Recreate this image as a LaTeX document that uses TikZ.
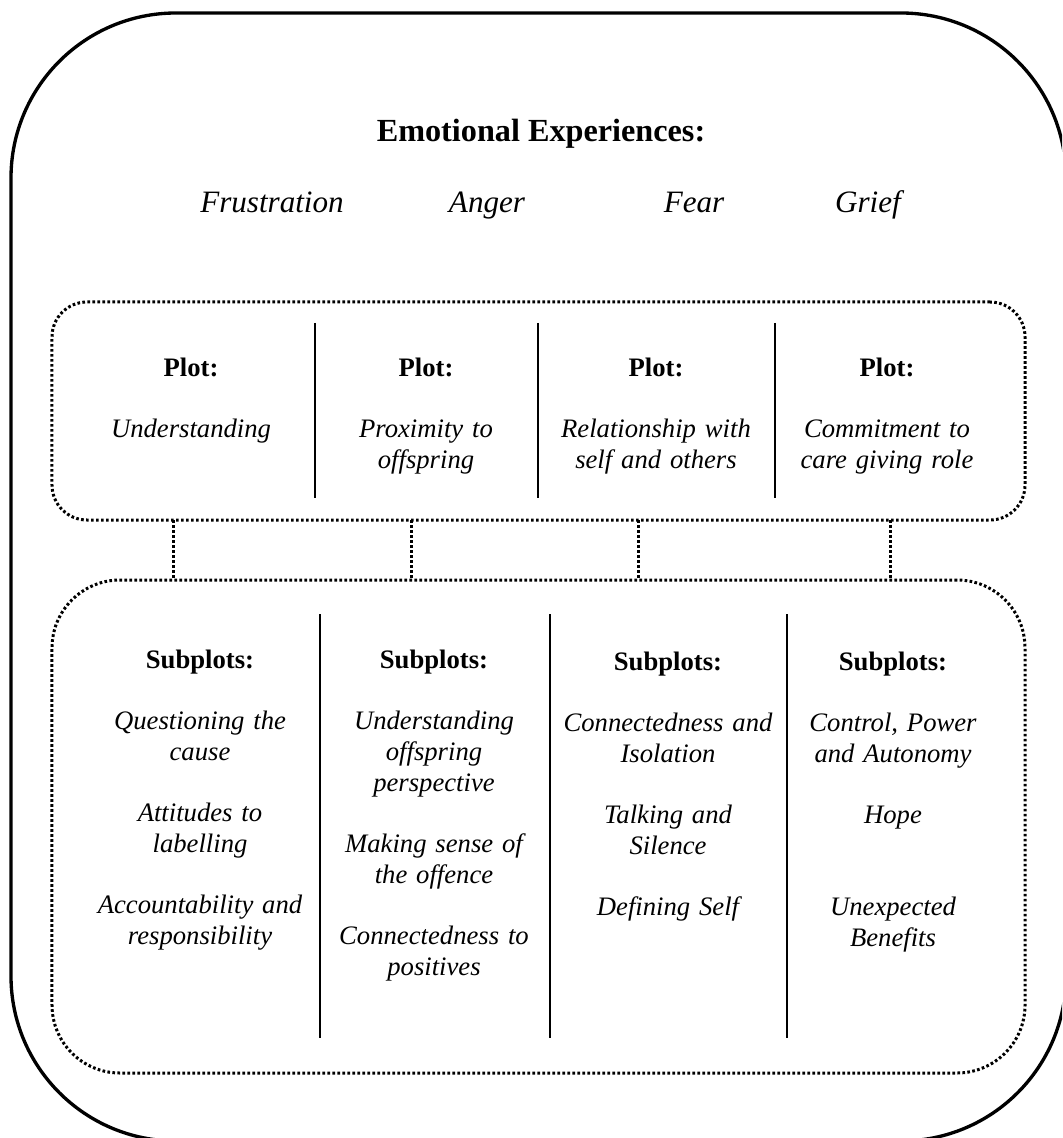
\documentclass[tikz,border=0pt]{standalone}
\usepackage{fontspec}
\setmainfont{Liberation Serif}
\newcommand\bodyfont{\fontsize{12}{13.8}\selectfont}
\newlength\gap
\setlength\gap{13.8pt}
\begin{document}
\begin{tikzpicture}[x=0.45pt,y=-0.45pt,
  dotline/.style={line width=1.35pt, dash pattern=on 1.2pt off 1.05pt},
  divider/.style={line width=0.95pt},
  coltext/.style={align=center, text width=110pt, inner sep=0pt, anchor=north, font=\bodyfont\itshape},
  emo/.style={anchor=base, inner sep=0pt, font=\fontsize{14}{16}\selectfont\itshape},
  frame/.style={draw, inner sep=0pt, outer sep=0pt}
]
\clip (0,0) rectangle (1062,1138);
\fill[white] (0,0) rectangle (1062,1138);
% outer box
\node[frame, line width=1.5pt, rounded corners=74.25pt, minimum width=474.75pt, minimum height=507.6pt] (outer) at (538.5,577) {};
% plot box and subplot box
\node[frame, dotline, rounded corners=15.75pt, minimum width=437.85pt, minimum height=98.1pt] (plotbox) at (538.5,411) {};
\node[frame, dotline, rounded corners=30.6pt, minimum width=437.85pt, minimum height=221.85pt] (subbox) at (538.5,826.5) {};
% connectors
\coordinate (k1) at (173,550);
\coordinate (k2) at (411,550);
\coordinate (k3) at (638,550);
\coordinate (k4) at (890,550);
\foreach \k in {k1,k2,k3,k4}
  \draw[dotline] (plotbox.south -| \k) -- (subbox.north -| \k);
% dividers
\foreach \x in {315,538,775}
  \draw[divider] (\x,323) -- (\x,498);
\foreach \x in {320,550,787}
  \draw[divider] (\x,614) -- (\x,1038);
% heading
\node[anchor=base, inner sep=0pt, font=\fontsize{14.5}{17}\selectfont\bfseries] (title) at (541,142) {Emotional Experiences:};
\node[emo] (frus) at (272,213) {Frustration};
\node[emo] (anger) at (487,213) {Anger};
\node[emo] (fear) at (694,213) {Fear};
\node[emo] (grief) at (868,213) {Grief};
% plots
\node[coltext] (p1) at (191,351.6) {\rule{0pt}{11pt}{\bfseries\upshape Plot:}\\[\gap]Understanding};
\node[coltext] (p2) at (426,351.6) {\rule{0pt}{11pt}{\bfseries\upshape Plot:}\\[\gap]Proximity to\\offspring};
\node[coltext] (p3) at (656,351.6) {\rule{0pt}{11pt}{\bfseries\upshape Plot:}\\[\gap]Relationship with\\self and others};
\node[coltext] (p4) at (887,351.6) {\rule{0pt}{11pt}{\bfseries\upshape Plot:}\\[\gap]Commitment to\\care giving role};
% subplots
\node[coltext] (s1) at (200,643.6) {\rule{0pt}{11pt}{\bfseries\upshape Subplots:}\\[\gap]Questioning the\\cause\\[\gap]Attitudes to\\labelling\\[\gap]Accountability and\\responsibility};
\node[coltext] (s2) at (434,643.6) {\rule{0pt}{11pt}{\bfseries\upshape Subplots:}\\[\gap]Understanding\\offspring\\perspective\\[\gap]Making sense of\\the offence\\[\gap]Connectedness to\\positives};
\node[coltext] (s3) at (668,645.6) {\rule{0pt}{11pt}{\bfseries\upshape Subplots:}\\[\gap]Connectedness and\\Isolation\\[\gap]Talking and\\Silence\\[\gap]Defining Self};
\node[coltext] (s4) at (893,645.6) {\rule{0pt}{11pt}{\bfseries\upshape Subplots:}\\[\gap]Control, Power\\and Autonomy\\[\gap]Hope\\[2\gap]Unexpected\\Benefits};
\end{tikzpicture}
\end{document}
